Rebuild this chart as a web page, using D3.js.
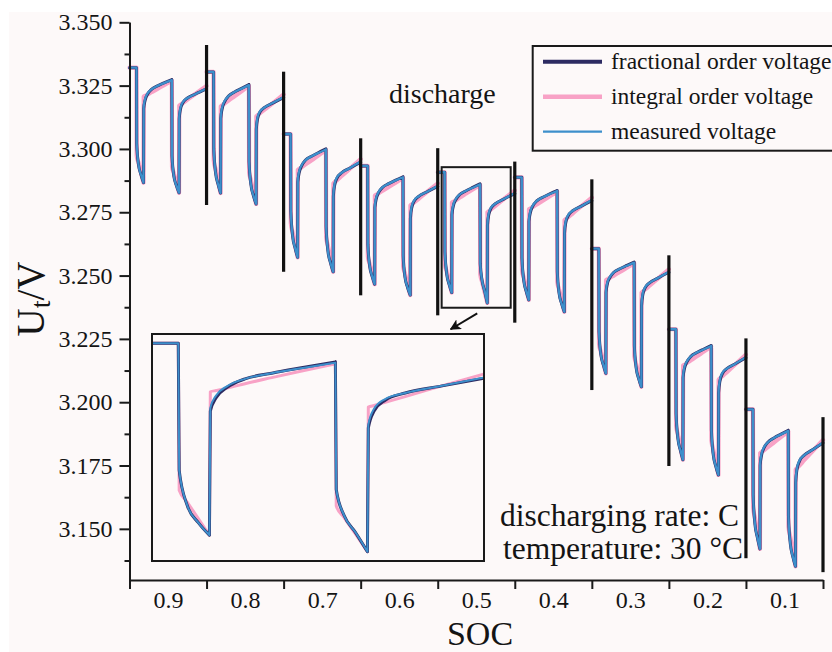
<!DOCTYPE html>
<html>
<head>
<meta charset="utf-8">
<script src="https://cdn.jsdelivr.net/npm/d3@7"></script>
<style>
  body { margin: 0; background: #ffffff; }
  svg { display: block; }
  text { font-family: "Liberation Serif", "Times New Roman", serif; fill: #141414; }
</style>
</head>
<body>
<svg id="chart" width="832" height="652"></svg>
<script>
// ---- data -----------------------------------------------------------------
// Each test block starts at a rest level, then two discharge pulses, each
// followed by a relaxation period.  Blocks start at these SOC values.
const blockStartSOC = [0.95, 0.85, 0.75, 0.65, 0.55, 0.45, 0.35, 0.25, 0.15];

// Sample positions inside a block, as SOC consumed since the block start.
const sampleOffset = [0, 0.00909, 0.00935, 0.01169, 0.01494, 0.01818, 0.01844,
  0.02013, 0.02338, 0.02857, 0.03636, 0.04545, 0.05494, 0.05519, 0.05753,
  0.06078, 0.06429, 0.06455, 0.06623, 0.06948, 0.07532, 0.08571, 0.1];

// Sample indices where a block changes between rest, pulse and relaxation.
const phaseBreaks = [0, 1, 5, 12, 16, 22];

// Terminal voltage (V) per block, one value per sample position.
const measuredVoltage = [
  [3.3321, 3.3321, 3.3021, 3.2938, 3.2898, 3.2867, 3.3167, 3.3196, 3.3219, 3.3235, 3.3249, 3.3261, 3.3272, 3.2972, 3.2894, 3.2856, 3.2827, 3.3127, 3.3164, 3.3186, 3.3201, 3.3217, 3.3239],
  [3.3304, 3.3304, 3.3002, 3.2907, 3.2861, 3.2826, 3.3128, 3.3163, 3.3189, 3.3209, 3.3225, 3.3238, 3.3252, 3.2950, 3.2860, 3.2816, 3.2783, 3.3085, 3.3125, 3.3149, 3.3164, 3.3181, 3.3205],
  [3.3059, 3.3059, 3.2754, 3.2656, 3.2608, 3.2572, 3.2877, 3.2911, 3.2936, 3.2956, 3.2971, 3.2985, 3.2998, 3.2693, 3.2597, 3.2551, 3.2515, 3.2820, 3.2863, 3.2889, 3.2906, 3.2924, 3.2950],
  [3.2933, 3.2933, 3.2623, 3.2538, 3.2497, 3.2466, 3.2776, 3.2807, 3.2831, 3.2849, 3.2863, 3.2876, 3.2888, 3.2578, 3.2494, 3.2454, 3.2423, 3.2733, 3.2773, 3.2797, 3.2813, 3.2830, 3.2854],
  [3.2908, 3.2908, 3.2594, 3.2507, 3.2464, 3.2433, 3.2748, 3.2779, 3.2802, 3.2820, 3.2834, 3.2847, 3.2860, 3.2546, 3.2481, 3.2440, 3.2392, 3.2706, 3.2746, 3.2770, 3.2785, 3.2802, 3.2826],
  [3.2888, 3.2888, 3.2570, 3.2480, 3.2437, 3.2404, 3.2722, 3.2753, 3.2777, 3.2795, 3.2809, 3.2822, 3.2834, 3.2516, 3.2430, 3.2389, 3.2357, 3.2675, 3.2716, 3.2740, 3.2756, 3.2773, 3.2798],
  [3.2606, 3.2606, 3.2278, 3.2189, 3.2147, 3.2114, 3.2442, 3.2473, 3.2495, 3.2513, 3.2527, 3.2539, 3.2551, 3.2223, 3.2136, 3.2093, 3.2061, 3.2389, 3.2431, 3.2456, 3.2472, 3.2490, 3.2515],
  [3.2288, 3.2288, 3.1956, 3.1857, 3.1810, 3.1773, 3.2105, 3.2138, 3.2162, 3.2181, 3.2196, 3.2209, 3.2222, 3.1890, 3.1794, 3.1748, 3.1713, 3.2045, 3.2089, 3.2116, 3.2133, 3.2151, 3.2178],
  [3.1972, 3.1972, 3.1634, 3.1519, 3.1464, 3.1421, 3.1759, 3.1795, 3.1822, 3.1842, 3.1859, 3.1873, 3.1887, 3.1549, 3.1443, 3.1391, 3.1352, 3.1690, 3.1740, 3.1770, 3.1790, 3.1811, 3.1841]
];

const fractionalVoltage = [
  [3.3321, 3.3321, 3.3021, 3.2938, 3.2898, 3.2867, 3.3159, 3.3190, 3.3216, 3.3235, 3.3249, 3.3262, 3.3274, 3.2972, 3.2894, 3.2856, 3.2827, 3.3119, 3.3158, 3.3183, 3.3201, 3.3217, 3.3237],
  [3.3304, 3.3304, 3.3002, 3.2907, 3.2861, 3.2826, 3.3120, 3.3157, 3.3186, 3.3209, 3.3225, 3.3239, 3.3254, 3.2950, 3.2860, 3.2816, 3.2783, 3.3077, 3.3119, 3.3146, 3.3164, 3.3181, 3.3203],
  [3.3059, 3.3059, 3.2754, 3.2656, 3.2608, 3.2572, 3.2869, 3.2905, 3.2933, 3.2956, 3.2971, 3.2986, 3.3000, 3.2693, 3.2597, 3.2551, 3.2515, 3.2812, 3.2857, 3.2886, 3.2906, 3.2924, 3.2948],
  [3.2933, 3.2933, 3.2623, 3.2538, 3.2497, 3.2466, 3.2768, 3.2801, 3.2828, 3.2849, 3.2863, 3.2877, 3.2890, 3.2578, 3.2494, 3.2454, 3.2423, 3.2725, 3.2767, 3.2794, 3.2813, 3.2830, 3.2852],
  [3.2908, 3.2908, 3.2594, 3.2507, 3.2464, 3.2433, 3.2740, 3.2773, 3.2799, 3.2820, 3.2834, 3.2848, 3.2862, 3.2546, 3.2481, 3.2440, 3.2392, 3.2698, 3.2740, 3.2767, 3.2785, 3.2802, 3.2824],
  [3.2888, 3.2888, 3.2570, 3.2480, 3.2437, 3.2404, 3.2714, 3.2747, 3.2774, 3.2795, 3.2809, 3.2823, 3.2836, 3.2516, 3.2430, 3.2389, 3.2357, 3.2667, 3.2710, 3.2737, 3.2756, 3.2773, 3.2796],
  [3.2606, 3.2606, 3.2278, 3.2189, 3.2147, 3.2114, 3.2434, 3.2467, 3.2492, 3.2513, 3.2527, 3.2540, 3.2553, 3.2223, 3.2136, 3.2093, 3.2061, 3.2381, 3.2425, 3.2453, 3.2472, 3.2490, 3.2513],
  [3.2288, 3.2288, 3.1956, 3.1857, 3.1810, 3.1773, 3.2097, 3.2132, 3.2159, 3.2181, 3.2196, 3.2210, 3.2224, 3.1890, 3.1794, 3.1748, 3.1713, 3.2037, 3.2083, 3.2113, 3.2133, 3.2151, 3.2176],
  [3.1972, 3.1972, 3.1634, 3.1519, 3.1464, 3.1421, 3.1751, 3.1789, 3.1819, 3.1842, 3.1859, 3.1874, 3.1889, 3.1549, 3.1443, 3.1391, 3.1352, 3.1682, 3.1734, 3.1767, 3.1790, 3.1811, 3.1839]
];

const integralVoltage = [
  [3.3321, 3.3321, 3.2973, 3.2945, 3.2906, 3.2867, 3.3207, 3.3210, 3.3215, 3.3224, 3.3237, 3.3253, 3.3269, 3.2931, 3.2904, 3.2867, 3.2827, 3.3171, 3.3175, 3.3182, 3.3195, 3.3218, 3.3249],
  [3.3304, 3.3304, 3.2954, 3.2920, 3.2873, 3.2826, 3.3168, 3.3172, 3.3179, 3.3191, 3.3208, 3.3228, 3.3249, 3.2909, 3.2877, 3.2832, 3.2783, 3.3129, 3.3133, 3.3141, 3.3155, 3.3180, 3.3215],
  [3.3059, 3.3059, 3.2706, 3.2670, 3.2621, 3.2572, 3.2917, 3.2921, 3.2928, 3.2939, 3.2955, 3.2975, 3.2995, 3.2652, 3.2617, 3.2568, 3.2515, 3.2864, 3.2869, 3.2877, 3.2893, 3.2921, 3.2960],
  [3.2933, 3.2933, 3.2575, 3.2546, 3.2506, 3.2466, 3.2816, 3.2819, 3.2825, 3.2835, 3.2850, 3.2867, 3.2885, 3.2537, 3.2508, 3.2467, 3.2423, 3.2777, 3.2781, 3.2789, 3.2803, 3.2829, 3.2864],
  [3.2908, 3.2908, 3.2544, 3.2515, 3.2474, 3.2433, 3.2788, 3.2791, 3.2797, 3.2808, 3.2823, 3.2840, 3.2857, 3.2505, 3.2476, 3.2436, 3.2392, 3.2750, 3.2754, 3.2762, 3.2776, 3.2802, 3.2836],
  [3.2888, 3.2888, 3.2522, 3.2491, 3.2447, 3.2404, 3.2762, 3.2765, 3.2771, 3.2781, 3.2796, 3.2813, 3.2831, 3.2475, 3.2445, 3.2403, 3.2357, 3.2719, 3.2723, 3.2731, 3.2746, 3.2772, 3.2808],
  [3.2606, 3.2606, 3.2230, 3.2199, 3.2157, 3.2114, 3.2482, 3.2485, 3.2491, 3.2500, 3.2514, 3.2531, 3.2548, 3.2182, 3.2151, 3.2108, 3.2061, 3.2433, 3.2437, 3.2446, 3.2461, 3.2488, 3.2525],
  [3.2288, 3.2288, 3.1908, 3.1872, 3.1823, 3.1773, 3.2145, 3.2148, 3.2155, 3.2166, 3.2181, 3.2200, 3.2219, 3.1849, 3.1814, 3.1765, 3.1713, 3.2089, 3.2094, 3.2103, 3.2119, 3.2148, 3.2188],
  [3.1972, 3.1972, 3.1586, 3.1542, 3.1482, 3.1421, 3.1799, 3.1803, 3.1810, 3.1823, 3.1841, 3.1862, 3.1884, 3.1508, 3.1468, 3.1412, 3.1352, 3.1734, 3.1740, 3.1750, 3.1770, 3.1804, 3.1851]
];

// Block separators: SOC position and vertical extent (V).
const separatorSOC = [0.85, 0.75, 0.65, 0.55, 0.45, 0.35, 0.25, 0.15, 0.05];
const separatorTopV = [3.3410, 3.3305, 3.3042, 3.3003, 3.2950, 3.2880, 3.2580, 3.2252, 3.1941];
const separatorBottomV = [3.2779, 3.2515, 3.2422, 3.2343, 3.2314, 3.2048, 3.1748, 3.1384, 3.1329];

// Axis ticks
const yMajorTicks = [3.150, 3.175, 3.200, 3.225, 3.250, 3.275, 3.300, 3.325, 3.350];
const yMinorTicks = [3.1375, 3.1625, 3.1875, 3.2125, 3.2375, 3.2625, 3.2875, 3.3125, 3.3375];
const xTickMarks = [0.95, 0.85, 0.75, 0.65, 0.55, 0.45, 0.35, 0.25, 0.15, 0.05];
const xTickLabels = [0.9, 0.8, 0.7, 0.6, 0.5, 0.4, 0.3, 0.2, 0.1];

// Magnified block (index into the blocks) and the window it shows.
const zoomBlock = 4;
const zoomBoxSOC = [0.5449, 0.4553];
const zoomBoxV = [3.2373, 3.2928];
const insetSOC = [0.54858, 0.45169];
const insetV = [3.2369, 3.2931];
const arrowFrom = [0.4987, 3.2351];
const arrowTo = [0.5332, 3.2288];

const seriesNames = ["fractional order voltage", "integral order voltage", "measured voltage"];

// ---- drawing ----------------------------------------------------------------
const svg = d3.select("#chart");
const W = 832, H = 652;

svg.append("rect").attr("x", 9).attr("y", 12).attr("width", W - 9).attr("height", H - 12)
  .attr("fill", "#fdf9f9");

const x = d3.scaleLinear().domain([0.95, 0.05]).range([129.5, 823]);
const y = d3.scaleLinear().domain([3.1298, 3.350]).range([580, 22.3]);

const style = {
  integral:   { color: "#f8a2c6", main: 4.2, inset: 3.0 },
  fractional: { color: "#2d2b62", main: 3.0, inset: 3.0 },
  measured:   { color: "#3d8fcb", main: 2.3, inset: 2.0 }
};

// Build a path for one block; every rest / pulse / relaxation phase is drawn
// as its own monotone piece so the corners between phases stay sharp.
function blockPath(values, start, sx, sy) {
  const pts = sampleOffset.map((o, i) => [sx(start - o), sy(values[i])]);
  const line = d3.line().curve(d3.curveMonotoneX);
  let d = "";
  for (let p = 0; p < phaseBreaks.length - 1; p++) {
    d += line(pts.slice(phaseBreaks[p], phaseBreaks[p + 1] + 1));
  }
  return d;
}

function drawSeries(g, data, st, width, sx, sy, blocks) {
  blocks.forEach(k => {
    g.append("path")
      .attr("d", blockPath(data[k], blockStartSOC[k], sx, sy))
      .attr("fill", "none")
      .attr("stroke", st.color)
      .attr("stroke-width", width)
      .attr("stroke-linejoin", "round")
      .attr("stroke-linecap", "round");
  });
}

const allBlocks = d3.range(blockStartSOC.length);
const gMain = svg.append("g");
drawSeries(gMain, integralVoltage, style.integral, style.integral.main, x, y, allBlocks);
drawSeries(gMain, fractionalVoltage, style.fractional, style.fractional.main, x, y, allBlocks);
drawSeries(gMain, measuredVoltage, style.measured, style.measured.main, x, y, allBlocks);

// block separators
svg.append("g").selectAll("line").data(separatorSOC).join("line")
  .attr("x1", d => x(d)).attr("x2", d => x(d))
  .attr("y1", (d, i) => y(separatorTopV[i]))
  .attr("y2", (d, i) => y(separatorBottomV[i]))
  .attr("stroke", "#111").attr("stroke-width", 3.2);

// window that is magnified in the inset
svg.append("rect")
  .attr("x", x(zoomBoxSOC[0])).attr("y", y(zoomBoxV[1]))
  .attr("width", x(zoomBoxSOC[1]) - x(zoomBoxSOC[0]))
  .attr("height", y(zoomBoxV[0]) - y(zoomBoxV[1]))
  .attr("fill", "none").attr("stroke", "#1a1a1a").attr("stroke-width", 2);

// arrow towards the inset
const defs = svg.append("defs");
defs.append("marker").attr("id", "arrowHead")
  .attr("viewBox", "0 0 10 10").attr("refX", 9).attr("refY", 5)
  .attr("markerWidth", 5.5).attr("markerHeight", 5.5)
  .attr("markerUnits", "strokeWidth").attr("orient", "auto")
  .append("path").attr("d", "M0,0 L10,5 L0,10 L2.5,5 Z").attr("fill", "#111");
svg.append("line")
  .attr("x1", x(arrowFrom[0])).attr("y1", y(arrowFrom[1]))
  .attr("x2", x(arrowTo[0])).attr("y2", y(arrowTo[1]))
  .attr("stroke", "#111").attr("stroke-width", 2)
  .attr("marker-end", "url(#arrowHead)");

// inset with the magnified block
const inset = { left: 152, top: 334, right: 484, bottom: 561 };
const ix = d3.scaleLinear().domain(insetSOC).range([inset.left, inset.right]);
const iy = d3.scaleLinear().domain(insetV).range([inset.bottom, inset.top]);
defs.append("clipPath").attr("id", "insetClip").append("rect")
  .attr("x", inset.left).attr("y", inset.top)
  .attr("width", inset.right - inset.left).attr("height", inset.bottom - inset.top);
svg.append("rect")
  .attr("x", inset.left).attr("y", inset.top)
  .attr("width", inset.right - inset.left).attr("height", inset.bottom - inset.top)
  .attr("fill", "#fdf9f9");
const gInset = svg.append("g").attr("clip-path", "url(#insetClip)");
drawSeries(gInset, integralVoltage, style.integral, style.integral.inset, ix, iy, [zoomBlock]);
drawSeries(gInset, fractionalVoltage, style.fractional, style.fractional.inset, ix, iy, [zoomBlock]);
drawSeries(gInset, measuredVoltage, style.measured, style.measured.inset, ix, iy, [zoomBlock]);
svg.append("rect")
  .attr("x", inset.left).attr("y", inset.top)
  .attr("width", inset.right - inset.left).attr("height", inset.bottom - inset.top)
  .attr("fill", "none").attr("stroke", "#1a1a1a").attr("stroke-width", 2);

// axes
const fontSize = 24;
const yAxisMajor = d3.axisLeft(y).tickValues(yMajorTicks).tickSize(10).tickPadding(7)
  .tickSizeOuter(0).tickFormat(d3.format(".3f"));
const yAxisMinor = d3.axisLeft(y).tickValues(yMinorTicks).tickSize(5).tickSizeOuter(0).tickFormat("");
const gy = svg.append("g").attr("transform", "translate(129.5,0)");
gy.call(yAxisMajor);
gy.append("g").call(yAxisMinor);
const xAxisTicks = d3.axisBottom(x).tickValues(xTickMarks).tickSize(9).tickSizeOuter(0).tickFormat("");
const xAxisLabels = d3.axisBottom(x).tickValues(xTickLabels).tickSize(0).tickPadding(11)
  .tickFormat(d3.format(".1f"));
const gx = svg.append("g").attr("transform", "translate(0,580)");
gx.call(xAxisTicks);
gx.append("g").call(xAxisLabels).select(".domain").remove();

svg.selectAll(".tick line, .domain").attr("stroke", "#1a1a1a").attr("stroke-width", 2);
svg.selectAll(".tick text").attr("font-size", fontSize).attr("fill", "#141414")
  .attr("font-family", '"Liberation Serif", "Times New Roman", serif');

// axis titles
svg.append("text").attr("x", 480).attr("y", 645).attr("text-anchor", "middle")
  .attr("font-size", 34).text("SOC");
const yTitle = svg.append("text").attr("transform", "translate(44,299) rotate(-90)")
  .attr("text-anchor", "middle").attr("font-size", 39);
yTitle.append("tspan").text("U");
yTitle.append("tspan").attr("font-size", 28).attr("dy", 6).text("t");
yTitle.append("tspan").attr("dy", -6).text("/V");

// annotations
svg.append("text").attr("x", 389).attr("y", 103).attr("font-size", 28).text("discharge");
svg.append("text").attr("x", 500).attr("y", 526).attr("font-size", 31.5).text("discharging rate: C");
svg.append("text").attr("x", 503).attr("y", 559).attr("font-size", 31.5).text("temperature: 30 \u00B0C");

// legend
const legend = svg.append("g");
legend.append("rect").attr("x", 532.7).attr("y", 46).attr("width", 320).attr("height", 104.7)
  .attr("fill", "#fdf9f9").attr("stroke", "#1a1a1a").attr("stroke-width", 2);
const legendStyles = [
  { color: style.fractional.color, width: 4 },
  { color: style.integral.color, width: 4.5 },
  { color: style.measured.color, width: 2.2 }
];
seriesNames.forEach((name, i) => {
  const ly = 61.7 + i * 35;
  legend.append("line").attr("x1", 543).attr("x2", 602).attr("y1", ly).attr("y2", ly)
    .attr("stroke", legendStyles[i].color).attr("stroke-width", legendStyles[i].width);
  legend.append("text").attr("x", 611).attr("y", ly).attr("dy", "0.32em")
    .attr("font-size", 23.5).text(name);
});
</script>
</body>
</html>
